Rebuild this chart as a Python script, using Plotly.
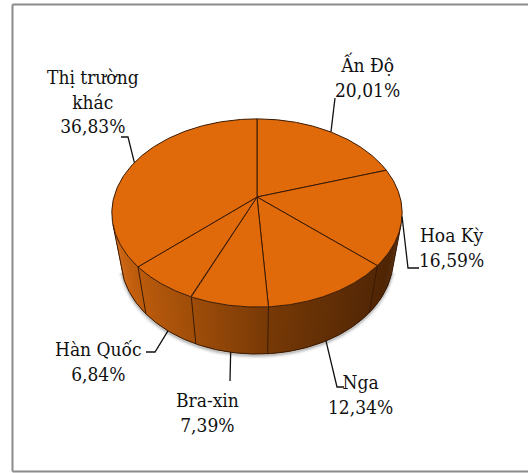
import numpy as np
import plotly.graph_objects as go

# Market shares (%) listed clockwise from 12 o'clock
markets = ["Ấn Độ", "Hoa Kỳ", "Nga", "Bra-xin", "Hàn Quốc", "Thị trường khác"]
shares = [20.01, 16.59, 12.34, 7.39, 6.84, 36.83]
label_names = ["Ấn Độ", "Hoa Kỳ", "Nga", "Bra-xin", "Hàn Quốc", "Thị trường<br>khác"]

W, H = 528, 473

# Perspective camera for the tilted disc
ELEV = np.radians(39.7)
DIST = 4.53
THICK = 0.444
SCALE = 648.0
CX, CY = 257.0, 197.0

TOP_COLOR = "#E0690A"
EDGE_COLOR = "#3A1A02"
LABEL_FONT = "DejaVu Serif Condensed, DejaVu Serif"

# Label placement: text anchor and leader-line path (pixel layout)
label_layout = {
    "Ấn Độ":           dict(x=367, y=76, xanchor="center", leader=[(335, 98)]),
    "Hoa Kỳ":          dict(x=451, y=247, xanchor="center", leader=[(408, 268), (419, 268)]),
    "Nga":             dict(x=360, y=394, xanchor="center", leader=[(337, 387), (344, 387)]),
    "Bra-xin":         dict(x=207, y=412, xanchor="center", leader=[(230, 381)]),
    "Hàn Quốc":        dict(x=144, y=361, xanchor="right", leader=[(155, 352), (146, 352)]),
    "Thị trường khác": dict(x=93, y=101, xanchor="center", leader=[(128, 137), (121, 137)]),
}


def project(phi, z):
    """Project a point of the unit cylinder (angle phi, height z) to pixels."""
    phi = np.asarray(phi, dtype=float)
    x = np.cos(phi)
    y = np.sin(phi)
    depth = y * np.cos(ELEV) - z * np.sin(ELEV) + DIST
    sx = x / depth
    sy = (y * np.sin(ELEV) + z * np.cos(ELEV)) / depth
    return CX + SCALE * sx, CY - SCALE * sy


def side_color(px):
    """Horizontal shading of the rim: light orange on the left, dark brown on the right."""
    stops_x = [110, 140, 192, 268, 330, 380, 405]
    stops_c = [(214, 106, 20), (188, 92, 14), (160, 78, 10), (120, 58, 7),
               (98, 47, 6), (82, 39, 6), (74, 35, 5)]
    r = np.interp(px, stops_x, [c[0] for c in stops_c])
    g = np.interp(px, stops_x, [c[1] for c in stops_c])
    b = np.interp(px, stops_x, [c[2] for c in stops_c])
    return f"rgb({int(r)},{int(g)},{int(b)})"


fig = go.Figure()

# Slice boundary angles: start at 12 o'clock, run clockwise
cum = np.concatenate([[0.0], np.cumsum(shares)])
bound_phi = np.pi / 2 - 2 * np.pi * cum / 100.0

# Visible part of the rim (faces turned toward the camera)
lim = np.arcsin(1.0 / (DIST * np.cos(ELEV)))
phi_a = -np.pi + lim
phi_b = -lim

# Soft shadow below the rim
for w, a in [(7, 0.05), (4, 0.08), (2, 0.12)]:
    ph = np.linspace(phi_a, phi_b, 200)
    bx, by = project(ph, -THICK)
    fig.add_trace(go.Scatter(x=bx, y=by + 1.5, mode="lines",
                             line=dict(color=f"rgba(0,0,0,{a})", width=w),
                             hoverinfo="skip", showlegend=False))

# Rim drawn as overlapping shaded strips (each covers the seam of the previous one)
n_strips = 160
edges = np.linspace(phi_a, phi_b, n_strips + 1)
for k in range(n_strips):
    p1 = edges[k]
    p2 = edges[min(k + 2, n_strips)]
    pm = 0.5 * (edges[k] + edges[k + 1])
    tx, ty = project([p1, p2], 0.0)
    bx, by = project([p2, p1], -THICK)
    mx, _ = project([pm], -THICK / 2)
    col = side_color(mx[0])
    fig.add_trace(go.Scatter(
        x=np.concatenate([tx, bx, tx[:1]]), y=np.concatenate([ty, by, ty[:1]]),
        mode="none", fill="toself", fillcolor=col,
        hoverinfo="skip", showlegend=False))

# Slice seams on the rim
for ph in bound_phi[:-1]:
    p = (ph + np.pi) % (2 * np.pi) - np.pi
    if phi_a < p < phi_b:
        tx, ty = project([p, p], 0.0)
        bx, by = project([p, p], -THICK)
        fig.add_trace(go.Scatter(x=[tx[0], bx[0]], y=[ty[0], by[0]], mode="lines",
                                 line=dict(color=EDGE_COLOR, width=1),
                                 hoverinfo="skip", showlegend=False))

# Rim outline: bottom arc and side silhouettes
ph = np.linspace(phi_a, phi_b, 200)
bx, by = project(ph, -THICK)
ta_x, ta_y = project([phi_a], 0.0)
tb_x, tb_y = project([phi_b], 0.0)
fig.add_trace(go.Scatter(
    x=np.concatenate([ta_x, bx, tb_x]), y=np.concatenate([ta_y, by, tb_y]),
    mode="lines", line=dict(color=EDGE_COLOR, width=1),
    hoverinfo="skip", showlegend=False))

# Top face slices
for i, name in enumerate(markets):
    ph = np.linspace(bound_phi[i], bound_phi[i + 1], 120)
    ax, ay = project(ph, 0.0)
    fig.add_trace(go.Scatter(
        x=np.concatenate([[CX], ax, [CX]]), y=np.concatenate([[CY], ay, [CY]]),
        mode="lines", fill="toself", fillcolor=TOP_COLOR,
        line=dict(color=EDGE_COLOR, width=1),
        name=name, hoverinfo="skip", showlegend=False))

# Leader lines and labels
annotations = []
for i, name in enumerate(markets):
    mid = np.pi / 2 - 2 * np.pi * (cum[i] + shares[i] / 2) / 100.0
    midw = (mid + np.pi) % (2 * np.pi) - np.pi
    z = -THICK if phi_a < midw < phi_b else 0.0
    sx, sy = project([mid], z)
    lay = label_layout[name]
    pts = [(sx[0], sy[0])] + lay["leader"]
    fig.add_trace(go.Scatter(x=[p[0] for p in pts], y=[p[1] for p in pts], mode="lines",
                             line=dict(color="#111111", width=1.3),
                             hoverinfo="skip", showlegend=False))
    pct = f"{shares[i]:.2f}".replace(".", ",") + "%"
    annotations.append(dict(
        x=lay["x"], y=lay["y"], xref="x", yref="y",
        text=f"{label_names[i]}<br>{pct}", showarrow=False,
        xanchor=lay["xanchor"], yanchor="middle", align="center",
        font=dict(family=LABEL_FONT, size=19, color="#111111")))

# Chart frame
frame = [
    dict(type="line", x0=12.5, y0=4.5, x1=W + 2, y1=4.5),
    dict(type="line", x0=12.5, y0=4.5, x1=12.5, y1=471.5),
    dict(type="line", x0=12.5, y0=471.5, x1=W + 2, y1=471.5),
]
for s in frame:
    s.update(xref="x", yref="y", line=dict(color="#8A8A8A", width=2))

fig.update_layout(
    width=W, height=H,
    margin=dict(l=0, r=0, t=0, b=0),
    paper_bgcolor="white", plot_bgcolor="white",
    font=dict(family=LABEL_FONT),
    xaxis=dict(range=[0, W], visible=False, fixedrange=True),
    yaxis=dict(range=[H, 0], visible=False, fixedrange=True),
    shapes=frame,
    annotations=annotations,
    showlegend=False,
)

fig.write_html("out.html")
